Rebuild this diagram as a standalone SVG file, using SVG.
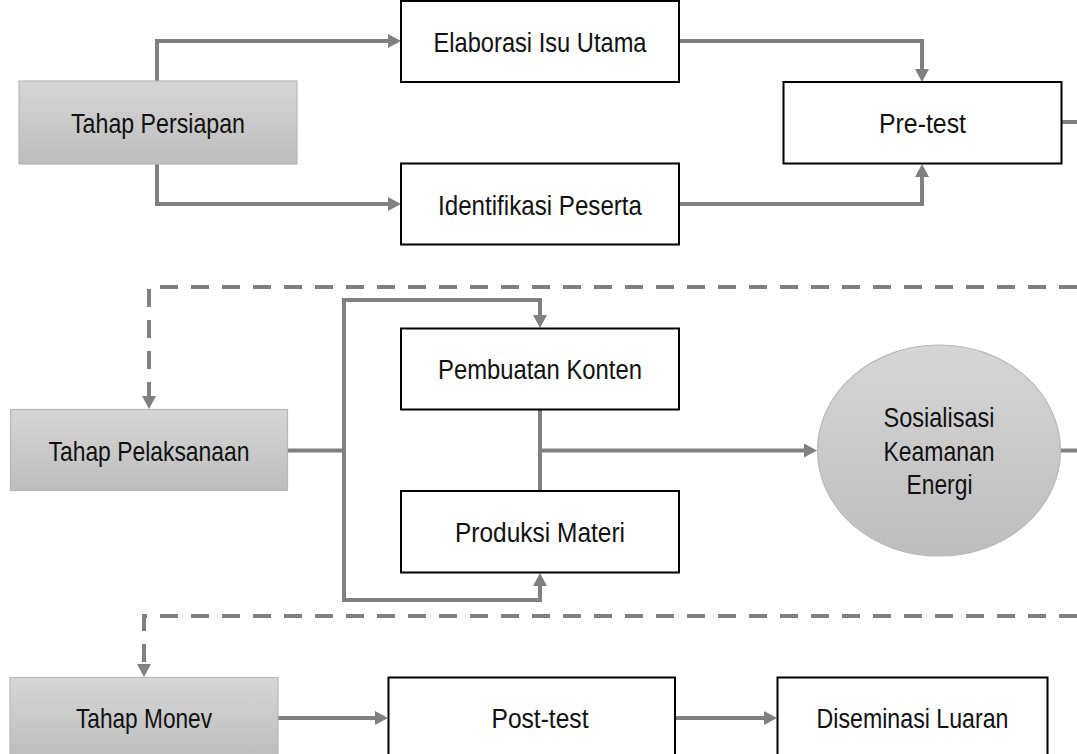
<svg xmlns="http://www.w3.org/2000/svg" width="1077" height="754" viewBox="0 0 1077 754">
<defs>
<linearGradient id="g" x1="0" y1="0" x2="0" y2="1">
<stop offset="0" stop-color="#d6d6d6"/>
<stop offset="1" stop-color="#bdbdbd"/>
</linearGradient>
<marker id="ah" viewBox="0 0 13 14" refX="0" refY="7" markerWidth="13" markerHeight="14" markerUnits="userSpaceOnUse" orient="auto-start-reverse">
<path d="M0,0 L13,7 L0,14 z" fill="#808080"/>
</marker>
<style>
.box{fill:#fff;stroke:#000;stroke-width:2}
.grey{fill:url(#g);stroke:#b8b8b8;stroke-width:1.2}
.t{font-family:"Liberation Sans",Arial,sans-serif;font-size:27.5px;fill:#111;text-anchor:middle}
.c{fill:none;stroke:#808080;stroke-width:4;stroke-linejoin:miter}
.d{stroke-dasharray:18 13}
</style>
</defs>
<rect width="1077" height="754" fill="#fff"/>
<g id="connectors">
<path class="c" d="M157,81 V41 H388" marker-end="url(#ah)"/>
<path class="c" d="M157,164 V204 H388" marker-end="url(#ah)"/>
<path class="c" d="M679,41 H922 V69" marker-end="url(#ah)"/>
<path class="c" d="M679,204 H922 V177" marker-end="url(#ah)"/>
<path class="c" d="M1062,122 H1077"/>
<path class="c d" d="M1077,287 H149 V396" marker-end="url(#ah)"/>
<path class="c" d="M287,450.5 H344"/>
<path class="c" d="M540,315 V300 H344 V600 H540 V586" marker-start="url(#ah)" marker-end="url(#ah)"/>
<path class="c" d="M540,410 V491"/>
<path class="c" d="M540,450.5 H804" marker-end="url(#ah)"/>
<path class="c" d="M1061,450.5 H1077"/>
<path class="c d" d="M1077,616 H144 V664" marker-end="url(#ah)"/>
<path class="c" d="M278,718 H375" marker-end="url(#ah)"/>
<path class="c" d="M675,718 H764" marker-end="url(#ah)"/>
</g>
<g id="tahap-persiapan"><rect class="grey" x="19" y="81" width="278" height="83"/><text class="t" x="158" y="132.5" textLength="174" lengthAdjust="spacingAndGlyphs">Tahap Persiapan</text></g>
<g id="elaborasi"><rect class="box" x="401" y="1" width="278" height="81"/><text class="t" x="540" y="52" textLength="213" lengthAdjust="spacingAndGlyphs">Elaborasi Isu Utama</text></g>
<g id="identifikasi"><rect class="box" x="401" y="163.5" width="278" height="81"/><text class="t" x="540" y="214.5" textLength="204" lengthAdjust="spacingAndGlyphs">Identifikasi Peserta</text></g>
<g id="pre-test"><rect class="box" x="783.5" y="82" width="278" height="81.5"/><text class="t" x="922.5" y="133" textLength="87" lengthAdjust="spacingAndGlyphs">Pre-test</text></g>
<g id="tahap-pelaksanaan"><rect class="grey" x="10.5" y="409.5" width="277" height="81"/><text class="t" x="149" y="460.5" textLength="201" lengthAdjust="spacingAndGlyphs">Tahap Pelaksanaan</text></g>
<g id="pembuatan"><rect class="box" x="401" y="328.5" width="278" height="81"/><text class="t" x="540" y="379" textLength="204" lengthAdjust="spacingAndGlyphs">Pembuatan Konten</text></g>
<g id="produksi"><rect class="box" x="401" y="491" width="278" height="81.5"/><text class="t" x="540" y="542" textLength="170" lengthAdjust="spacingAndGlyphs">Produksi Materi</text></g>
<g id="sosialisasi"><ellipse cx="939" cy="450.5" rx="121.5" ry="105.5" fill="url(#g)" stroke="#b8b8b8" stroke-width="1.2"/><text class="t" x="939" y="427" textLength="111" lengthAdjust="spacingAndGlyphs">Sosialisasi</text><text class="t" x="939" y="460.5" textLength="111" lengthAdjust="spacingAndGlyphs">Keamanan</text><text class="t" x="939.5" y="493.5" textLength="66" lengthAdjust="spacingAndGlyphs">Energi</text></g>
<g id="tahap-monev"><rect class="grey" x="10" y="677.5" width="268" height="82"/><text class="t" x="144" y="727.5" textLength="136" lengthAdjust="spacingAndGlyphs">Tahap Monev</text></g>
<g id="post-test"><rect class="box" x="388.5" y="677.5" width="286.5" height="82"/><text class="t" x="540" y="728" textLength="97" lengthAdjust="spacingAndGlyphs">Post-test</text></g>
<g id="diseminasi"><rect class="box" x="777.5" y="677.5" width="270" height="82"/><text class="t" x="912.5" y="727.5" textLength="192" lengthAdjust="spacingAndGlyphs">Diseminasi Luaran</text></g>
</svg>
